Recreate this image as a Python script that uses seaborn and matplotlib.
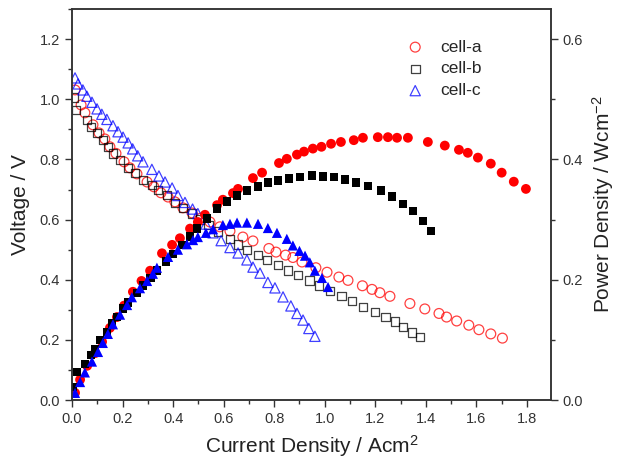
import numpy as np
import pandas as pd
import matplotlib
matplotlib.use("Agg")
import matplotlib.pyplot as plt
import seaborn as sns
from matplotlib.ticker import AutoMinorLocator, MultipleLocator

# cell-a: voltage (open) and power density (filled)
i_a_v = [0.012, 0.036, 0.051, 0.083, 0.107, 0.130, 0.150, 0.174, 0.206, 0.229, 0.257, 0.297,
         0.324, 0.352, 0.380, 0.407, 0.439, 0.475, 0.510, 0.546, 0.585, 0.625, 0.676, 0.716,
         0.779, 0.807, 0.845, 0.874, 0.910, 0.965, 1.009, 1.056, 1.092, 1.149, 1.187, 1.218,
         1.258, 1.337, 1.396, 1.452, 1.482, 1.522, 1.570, 1.610, 1.657, 1.703]
v_a = [1.031, 0.981, 0.955, 0.915, 0.888, 0.868, 0.842, 0.820, 0.792, 0.772, 0.752, 0.725,
       0.709, 0.689, 0.675, 0.659, 0.639, 0.622, 0.605, 0.592, 0.576, 0.562, 0.542, 0.529,
       0.504, 0.492, 0.482, 0.474, 0.459, 0.440, 0.425, 0.409, 0.398, 0.380, 0.368, 0.357,
       0.345, 0.321, 0.303, 0.288, 0.276, 0.263, 0.249, 0.234, 0.220, 0.206]
i_a_p = [0.012, 0.032, 0.060, 0.091, 0.119, 0.150, 0.178, 0.206, 0.241, 0.275, 0.309, 0.356,
         0.396, 0.427, 0.467, 0.498, 0.526, 0.574, 0.597, 0.637, 0.657, 0.716, 0.752, 0.819,
         0.850, 0.890, 0.918, 0.953, 0.987, 1.025, 1.064, 1.115, 1.151, 1.210, 1.250, 1.286,
         1.329, 1.408, 1.475, 1.531, 1.566, 1.606, 1.657, 1.700, 1.748, 1.796]
p_a = [0.012, 0.034, 0.057, 0.078, 0.097, 0.120, 0.138, 0.157, 0.180, 0.198, 0.215, 0.244,
       0.258, 0.269, 0.285, 0.296, 0.308, 0.324, 0.333, 0.344, 0.351, 0.369, 0.378, 0.394,
       0.401, 0.408, 0.413, 0.418, 0.421, 0.426, 0.429, 0.432, 0.436, 0.437, 0.437, 0.436,
       0.436, 0.429, 0.423, 0.416, 0.411, 0.403, 0.393, 0.378, 0.363, 0.351]

# cell-b
i_b_v = [0.008, 0.016, 0.059, 0.075, 0.099, 0.123, 0.142, 0.162, 0.190, 0.222, 0.249, 0.281,
         0.316, 0.340, 0.376, 0.407, 0.439, 0.475, 0.506, 0.540, 0.578, 0.625, 0.657, 0.692,
         0.736, 0.771, 0.815, 0.854, 0.894, 0.939, 0.978, 1.021, 1.066, 1.108, 1.151, 1.199,
         1.240, 1.278, 1.309, 1.345, 1.377]
v_b = [1.005, 0.965, 0.931, 0.908, 0.888, 0.865, 0.842, 0.820, 0.798, 0.772, 0.755, 0.732,
       0.715, 0.699, 0.682, 0.655, 0.638, 0.620, 0.600, 0.582, 0.560, 0.535, 0.518, 0.499,
       0.482, 0.466, 0.449, 0.430, 0.416, 0.397, 0.380, 0.363, 0.346, 0.329, 0.310, 0.293,
       0.276, 0.262, 0.243, 0.225, 0.209]
i_b_p = [0.004, 0.020, 0.051, 0.075, 0.091, 0.111, 0.138, 0.158, 0.178, 0.202, 0.222, 0.257,
         0.281, 0.310, 0.336, 0.372, 0.400, 0.435, 0.467, 0.494, 0.534, 0.574, 0.613, 0.653,
         0.692, 0.736, 0.775, 0.815, 0.858, 0.902, 0.949, 0.993, 1.036, 1.080, 1.123, 1.171,
         1.222, 1.266, 1.309, 1.349, 1.388, 1.420]
p_b = [0.022, 0.047, 0.060, 0.075, 0.085, 0.100, 0.113, 0.127, 0.138, 0.152, 0.162, 0.178,
       0.190, 0.203, 0.215, 0.230, 0.243, 0.258, 0.272, 0.285, 0.302, 0.318, 0.330, 0.340,
       0.348, 0.355, 0.362, 0.365, 0.368, 0.371, 0.373, 0.372, 0.371, 0.367, 0.362, 0.356,
       0.348, 0.338, 0.326, 0.314, 0.298, 0.281]

# cell-c
i_c_v = [0.012, 0.024, 0.043, 0.059, 0.079, 0.099, 0.118, 0.138, 0.162, 0.182, 0.202, 0.222,
         0.240, 0.260, 0.281, 0.316, 0.344, 0.368, 0.396, 0.419, 0.447, 0.477, 0.498, 0.530,
         0.558, 0.590, 0.625, 0.657, 0.692, 0.716, 0.744, 0.775, 0.803, 0.835, 0.866, 0.890,
         0.914, 0.937, 0.961]
v_c = [1.071, 1.051, 1.031, 1.010, 0.990, 0.968, 0.950, 0.933, 0.912, 0.892, 0.874, 0.855,
       0.835, 0.812, 0.792, 0.767, 0.745, 0.725, 0.705, 0.680, 0.657, 0.635, 0.620, 0.585,
       0.556, 0.530, 0.507, 0.489, 0.466, 0.442, 0.422, 0.391, 0.373, 0.343, 0.313, 0.288,
       0.266, 0.238, 0.212]
i_c_p = [0.012, 0.032, 0.051, 0.079, 0.103, 0.122, 0.142, 0.162, 0.190, 0.218, 0.237, 0.269,
         0.297, 0.320, 0.336, 0.380, 0.419, 0.455, 0.479, 0.498, 0.530, 0.558, 0.597, 0.625,
         0.653, 0.692, 0.736, 0.775, 0.811, 0.850, 0.874, 0.900, 0.922, 0.941, 0.961, 0.989,
         1.013]
p_c = [0.012, 0.030, 0.046, 0.064, 0.080, 0.095, 0.110, 0.126, 0.142, 0.158, 0.171, 0.186,
       0.198, 0.210, 0.220, 0.238, 0.250, 0.259, 0.266, 0.271, 0.278, 0.284, 0.291, 0.293,
       0.295, 0.295, 0.293, 0.286, 0.278, 0.268, 0.257, 0.248, 0.240, 0.229, 0.215, 0.203,
       0.188]

labels = ["cell-a", "cell-b", "cell-c"]
colors = ["#ff0000", "#000000", "#0000ff"]
markers = ["o", "s", "^"]
sizes = [50, 38, 54]

sns.set_style("ticks")
plt.rcParams["font.family"] = ["Liberation Sans", "DejaVu Sans"]
plt.rcParams["mathtext.fontset"] = "custom"
plt.rcParams["mathtext.rm"] = "Liberation Sans"
plt.rcParams["mathtext.it"] = "Liberation Sans"

fig = plt.figure(figsize=(6.18, 4.62), dpi=100)
ax = fig.add_axes([0.1165, 0.134, 0.775, 0.8465])
ax2 = ax.twinx()

v_sets = [(i_a_v, v_a), (i_b_v, v_b), (i_c_v, v_c)]
p_sets = [(i_a_p, p_a), (i_b_p, p_b), (i_c_p, p_c)]

for (x, y), lab, c, m, s in zip(v_sets, labels, colors, markers, sizes):
    sns.scatterplot(x=x, y=y, ax=ax, marker=m, s=s, color=c, facecolor="none",
                    edgecolor=c, linewidth=0.9, alpha=0.75, label=lab, legend=False)
for (x, y), c, m, s in zip(p_sets, colors, markers, sizes):
    sns.scatterplot(x=x, y=y, ax=ax2, marker=m, s=s, color=c, edgecolor="none",
                    linewidth=0, legend=False)

ax.set_xlim(0, 1.895)
ax.set_ylim(0, 1.3)
ax2.set_ylim(0, 0.65)
ax.yaxis.set_major_locator(MultipleLocator(0.2))
ax2.yaxis.set_major_locator(MultipleLocator(0.2))
for a in (ax, ax2):
    a.yaxis.set_minor_locator(AutoMinorLocator(2))
    a.tick_params(which="major", direction="out", length=5, width=1, labelsize=10.5,
                  colors="#333333")
    a.tick_params(which="minor", direction="out", length=3, width=1, colors="#333333")
    for sp in a.spines.values():
        sp.set_visible(True)
        sp.set_color("#333333")
        sp.set_linewidth(1.1)
ax.tick_params(axis="y", right=False)
ax2.tick_params(axis="x", top=False, bottom=False)

xt = np.round(np.arange(0, 1.81, 0.2), 1)
ax.set_xticks(xt)
ax.set_xticklabels([f"{t:.1f}" for t in xt])
ax.xaxis.set_minor_locator(AutoMinorLocator(2))

ax.set_xlabel("Current Density / Acm$^2$", fontsize=15, color="#222222", labelpad=5)
ax.set_ylabel("Voltage / V", fontsize=15, color="#222222", labelpad=7)
ax2.set_ylabel("Power Density / Wcm$^{-2}$", fontsize=15, color="#222222", labelpad=5)

h, l = ax.get_legend_handles_labels()
leg = ax2.legend(h, l, loc="upper left", bbox_to_anchor=(0.655, 0.953), frameon=False,
                 fontsize=12.5, handletextpad=0.45, labelspacing=0.38, borderpad=0.2)

fig.savefig("out.png", dpi=100)
